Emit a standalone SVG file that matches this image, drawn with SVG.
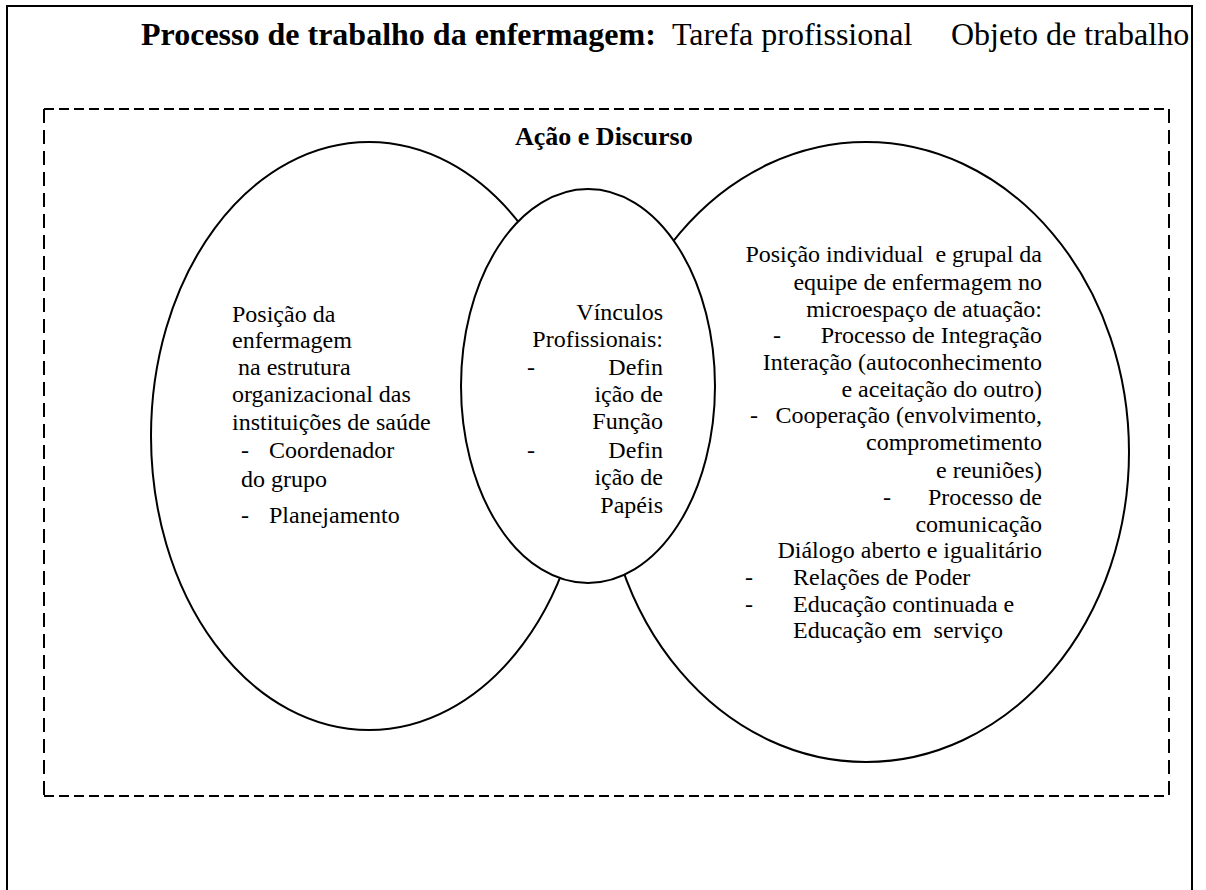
<svg xmlns="http://www.w3.org/2000/svg" width="1206" height="890" viewBox="0 0 1206 890">
<style>
text{font-family:"Liberation Serif","Times New Roman",serif;font-size:24px;fill:#000}
.b{font-weight:bold}
.t{font-size:32px}
.e{text-anchor:end}
.ell{fill:#fff;stroke:#000;stroke-width:2}
.dh{stroke:#000;stroke-width:2;stroke-dasharray:10 5;fill:none}
.dv{stroke:#000;stroke-width:2;stroke-dasharray:14 7;fill:none}
</style>
<rect width="1206" height="890" fill="#fff"/>
<g id="page-frame">
<path d="M7,895 V6 H1192 V895" fill="none" stroke="#000" stroke-width="2"/>
</g>
<g id="title">
<text class="t b" x="141" y="45">Processo de trabalho da enfermagem:</text>
<text class="t" x="672" y="45">Tarefa profissional</text>
<text class="t" x="951" y="45">Objeto de trabalho</text>
</g>
<g id="action-frame">
<line class="dh" x1="44" y1="109" x2="1169" y2="109"/>
<line class="dh" x1="44" y1="796" x2="1169" y2="796"/>
<line class="dv" x1="44" y1="109" x2="44" y2="796"/>
<line class="dv" x1="1169" y1="109" x2="1169" y2="796"/>
<text class="b" style="font-size:26px" x="515" y="145">Ação e Discurso</text>
</g>
<g id="connectors"></g>
<g id="node-left">
<ellipse class="ell" cx="369" cy="436" rx="218" ry="294"/>
<text x="232" y="322">Posição da</text>
<text x="232" y="348">enfermagem</text>
<text x="238" y="375">na estrutura</text>
<text x="232" y="402">organizacional das</text>
<text x="232" y="430">instituições de saúde</text>
<text x="241" y="458">-</text><text x="269" y="458">Coordenador</text>
<text x="241" y="487">do grupo</text>
<text x="241" y="523">-</text><text x="269" y="523">Planejamento</text>
</g>
<g id="node-right">
<ellipse class="ell" cx="866" cy="452" rx="263" ry="310"/>
<text class="e" x="1042" y="262" xml:space="preserve">Posição individual  e grupal da</text>
<text class="e" x="1042" y="290">equipe de enfermagem no</text>
<text class="e" x="1042" y="317">microespaço de atuação:</text>
<text x="773" y="343">-</text><text class="e" x="1042" y="343">Processo de Integração</text>
<text class="e" x="1042" y="370">Interação (autoconhecimento</text>
<text class="e" x="1042" y="397">e aceitação do outro)</text>
<text x="750" y="423">-</text><text class="e" x="1042" y="423">Cooperação (envolvimento,</text>
<text class="e" x="1042" y="450">comprometimento</text>
<text class="e" x="1042" y="478">e reuniões)</text>
<text x="883" y="505">-</text><text class="e" x="1042" y="505">Processo de</text>
<text class="e" x="1042" y="532">comunicação</text>
<text class="e" x="1042" y="558">Diálogo aberto e igualitário</text>
<text x="745" y="585">-</text><text x="793" y="585">Relações de Poder</text>
<text x="745" y="612">-</text><text x="793" y="612">Educação continuada e</text>
<text x="793" y="638" xml:space="preserve">Educação em  serviço</text>
</g>
<g id="node-middle">
<ellipse class="ell" cx="588" cy="386" rx="127" ry="197"/>
<text class="e" x="663" y="320">Vínculos</text>
<text class="e" x="663" y="347">Profissionais:</text>
<text x="527" y="375">-</text><text class="e" x="663" y="375">Defin</text>
<text class="e" x="663" y="402">ição de</text>
<text class="e" x="663" y="429">Função</text>
<text x="527" y="458">-</text><text class="e" x="663" y="458">Defin</text>
<text class="e" x="663" y="485">ição de</text>
<text class="e" x="663" y="513">Papéis</text>
</g>
</svg>
